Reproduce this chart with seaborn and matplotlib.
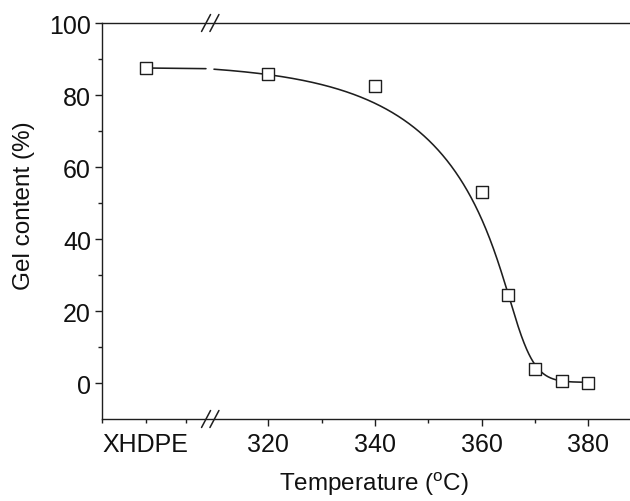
import numpy as np
import pandas as pd
import matplotlib
matplotlib.use("Agg")
import matplotlib.pyplot as plt
import matplotlib.transforms as mtransforms
import seaborn as sns

# ---------------- data ----------------
sample_label = "XHDPE"
xhdpe_gel = 87.5
temperatures = [320, 340, 360, 365, 370, 375, 380]
gel_content = [85.8, 82.6, 53.0, 24.5, 3.9, 0.65, 0.1]
x_major_ticks = [320, 340, 360, 380]
y_major_ticks = [0, 20, 40, 60, 80, 100]

# fitted curve parameters (asymmetric sigmoid fit)
fit_y0, fit_A, fit_k, fit_x1, fit_p, fit_s = 0.2, 88.746, 0.059693, 366.15, 0.57577, 0.0971

# ---------------- layout ----------------
XHDPE_POS = 297.0          # position of the XHDPE category on the broken axis
BREAK_POS = 309.1          # where the axis is broken
GAP = (308.3, 309.8)       # gap in fitted line at the break
XLIM = (288.8, 390.0)
YLIM = (-10, 100)
INK = "#1e1e1e"

sns.set_style("ticks")
plt.rcParams["font.family"] = ["Liberation Sans", "DejaVu Sans"]
plt.rcParams["mathtext.fontset"] = "custom"
plt.rcParams["mathtext.rm"] = "Liberation Sans"
plt.rcParams["mathtext.it"] = "Liberation Sans:italic"

fig = plt.figure(figsize=(6.3, 5.02), dpi=100)
W, H = 630, 502
ax = fig.add_axes([102 / W, 1 - 420 / H, (641.6 - 102) / W, 396 / H])


def model(x):
    x = np.asarray(x, float)
    g = 1 - np.exp(fit_k * (x - fit_x1))
    g = fit_s * np.logaddexp(0, g / fit_s)
    return fit_y0 + fit_A * g ** fit_p


# fitted curve: left piece joins XHDPE point to the fit at the break
xs_right = np.linspace(GAP[1], max(temperatures), 700)
fit_df = pd.DataFrame({
    "x": np.concatenate([[XHDPE_POS, GAP[0]], xs_right]),
    "y": np.concatenate([[xhdpe_gel, float(model(GAP[0]))], model(xs_right)]),
    "seg": np.concatenate([[0, 0], np.ones(len(xs_right), int)]),
})
sns.lineplot(data=fit_df, x="x", y="y", units="seg", estimator=None, sort=False,
             color=INK, linewidth=1.15, ax=ax, legend=False)

# data points
pts = pd.DataFrame({"x": [XHDPE_POS] + temperatures,
                    "y": [xhdpe_gel] + gel_content})
sns.scatterplot(data=pts, x="x", y="y", marker="s", s=64, color="white",
                edgecolor=INK, linewidth=1.0, zorder=5, ax=ax, clip_on=False)

ax.set_xlim(*XLIM)
ax.set_ylim(*YLIM)

for side in ["left", "bottom", "top"]:
    ax.spines[side].set_visible(True)
    ax.spines[side].set_linewidth(1.0)
    ax.spines[side].set_color(INK)
ax.spines["right"].set_visible(False)

FS = 18
ax.set_xticks(x_major_ticks)
ax.set_xticklabels([str(t) for t in x_major_ticks])
ax.set_xticks([XLIM[0], XHDPE_POS, 304.6, 330, 350, 370], minor=True)
ax.set_xticklabels(["", sample_label, "", "", "", ""], minor=True)
ax.set_yticks(y_major_ticks)
ax.set_yticks([10, 30, 50, 70, 90], minor=True)
ax.tick_params(axis="both", which="major", direction="out", length=5, width=1.0,
               color=INK, labelsize=FS, labelcolor="#111111")
ax.tick_params(axis="both", which="minor", direction="out", length=3, width=1.0,
               color=INK, labelsize=FS, labelcolor="#111111")
ax.tick_params(axis="x", which="major", pad=4)
ax.tick_params(axis="x", which="minor", pad=6)
ax.tick_params(axis="y", which="major", pad=3)
ax.tick_params(top=False, right=False)

ax.set_xlabel(r"Temperature ($^{\mathrm{o}}$C)", fontsize=17.5, color="#111111")
ax.set_ylabel("Gel content (%)", fontsize=17.5, color="#111111")
ax.xaxis.set_label_coords(0.504, -0.128)
ax.yaxis.set_label_coords(-0.124, 0.54)

# axis-break marks on top and bottom spines
trans = mtransforms.blended_transform_factory(ax.transData, ax.transAxes)
px = (XLIM[1] - XLIM[0]) / 539.6
py = 1 / 396
for ycen in (0.0, 1.0):
    for off in (-4.2, 4.2):
        xc = BREAK_POS + off * px
        ax.plot([xc - 4.5 * px, xc + 4.5 * px], [ycen - 8.5 * py, ycen + 8.5 * py],
                color=INK, lw=1.1, transform=trans, clip_on=False, zorder=6)

fig.savefig("out.png", dpi=100)
